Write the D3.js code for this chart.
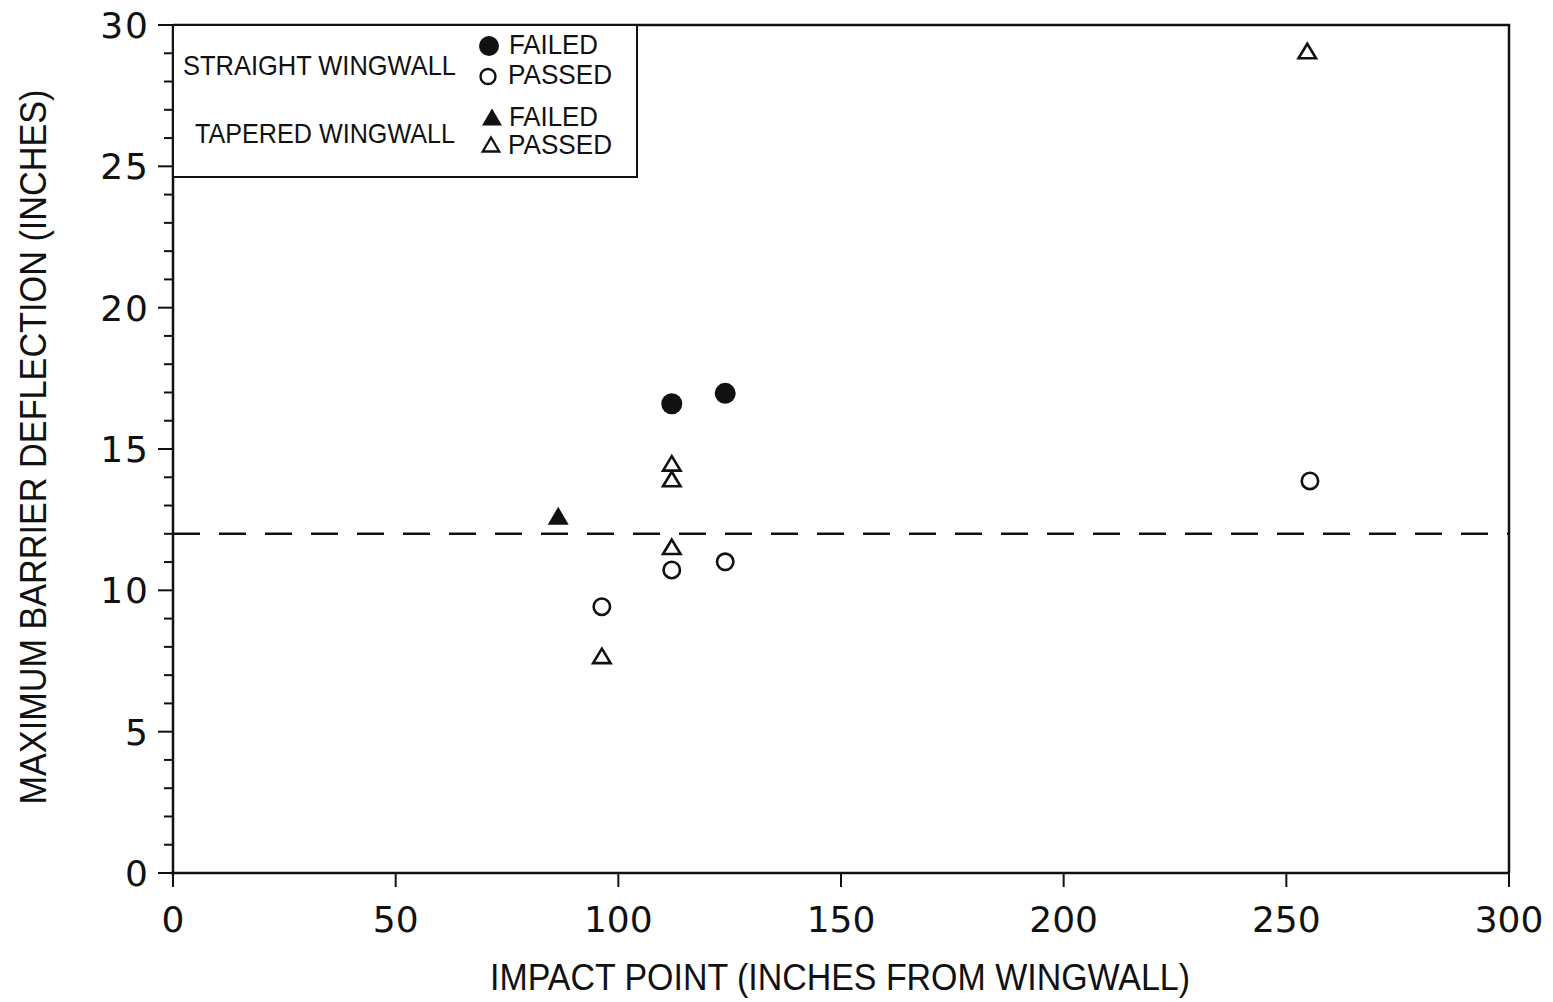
<!DOCTYPE html>
<html>
<head>
<meta charset="utf-8">
<script src="https://cdn.jsdelivr.net/npm/d3@7"></script>
<style>
  body { margin: 0; background: #fff; }
  text { fill: #111; }
</style>
</head>
<body>
<div id="chart"></div>
<script>
// data: [impact point, max deflection]
var straightFailed = [[112, 16.6], [124, 16.97]];
var straightPassed = [[96.3, 9.42], [112, 10.72], [124, 11.01], [255.3, 13.87]];
var taperedFailed  = [[86.5, 12.64]];
var taperedPassed  = [[96.3, 7.68], [112, 11.54], [112, 13.94], [112, 14.49], [254.7, 29.08]];
var criterion = 12;

var xTicks = [0, 50, 100, 150, 200, 250, 300];
var yTicks = [0, 5, 10, 15, 20, 25, 30];
var yMinorTicks = d3.range(0, 31, 1);

var xTitle = "IMPACT POINT (INCHES FROM WINGWALL)";
var yTitle = "MAXIMUM BARRIER DEFLECTION (INCHES)";
var legendGroups = ["STRAIGHT WINGWALL", "TAPERED WINGWALL"];
var legendStates = ["FAILED", "PASSED"];

var width = 1553, height = 1002;

var svg = d3.select("#chart")
  .append("svg")
  .attr("width", width)
  .attr("height", height);

var x = d3.scaleLinear().domain([0, 300]).range([173, 1509]);
var y = d3.scaleLinear().domain([0, 30]).range([873, 25]);

// triangle centred on its box
function tri(w, h) {
  return "M0," + (-h / 2) + "L" + (w / 2) + "," + (h / 2) + "L" + (-w / 2) + "," + (h / 2) + "Z";
}

// frame top + right
svg.append("path")
  .attr("d", "M" + x(0) + "," + y(30) + "H" + x(300) + "V" + y(0))
  .style("fill", "none")
  .style("stroke", "#111")
  .style("stroke-width", "2.5px");

// left axis with minor ticks
svg.append("line")
  .attr("x1", x(0)).attr("x2", x(0))
  .attr("y1", y(30)).attr("y2", y(0) + 2)
  .style("stroke", "#111").style("stroke-width", "2.5px");

svg.selectAll("line.yminor")
  .data(yMinorTicks)
  .enter()
  .append("line")
  .attr("class", "yminor")
  .attr("x1", function(d) { return d % 5 === 0 ? x(0) - 15 : x(0) - 9; })
  .attr("x2", x(0))
  .attr("y1", function(d) { return y(d); })
  .attr("y2", function(d) { return y(d); })
  .style("stroke", "#111")
  .style("stroke-width", "2px");

svg.selectAll("text.ytick")
  .data(yTicks)
  .enter()
  .append("text")
  .attr("class", "ytick")
  .attr("x", 150)
  .attr("y", function(d) { return y(d) + 13; })
  .attr("text-anchor", "end")
  .attr("font-family", "DejaVu Sans")
  .attr("font-size", 36)
  .attr("letter-spacing", 2)
  .text(function(d) { return d; });

// bottom axis
svg.append("line")
  .attr("x1", x(0) - 2).attr("x2", x(300))
  .attr("y1", y(0)).attr("y2", y(0))
  .style("stroke", "#111").style("stroke-width", "2.5px");

svg.selectAll("line.xtick")
  .data(xTicks)
  .enter()
  .append("line")
  .attr("class", "xtick")
  .attr("x1", function(d) { return x(d); })
  .attr("x2", function(d) { return x(d); })
  .attr("y1", y(0))
  .attr("y2", y(0) + 14)
  .style("stroke", "#111")
  .style("stroke-width", "2px");

svg.selectAll("text.xtick")
  .data(xTicks)
  .enter()
  .append("text")
  .attr("class", "xtick")
  .attr("x", function(d) { return x(d); })
  .attr("y", 932)
  .attr("text-anchor", "middle")
  .attr("font-family", "DejaVu Sans")
  .attr("font-size", 36)
  .text(function(d) { return d; });

// axis titles
svg.append("text")
  .attr("x", 840)
  .attr("y", 990)
  .attr("text-anchor", "middle")
  .attr("font-family", "Liberation Sans")
  .attr("font-size", 36)
  .attr("textLength", 700)
  .attr("lengthAdjust", "spacingAndGlyphs")
  .text(xTitle);

svg.append("text")
  .attr("transform", "translate(46,447) rotate(-90)")
  .attr("text-anchor", "middle")
  .attr("font-family", "Liberation Sans")
  .attr("font-size", 36)
  .attr("textLength", 715)
  .attr("lengthAdjust", "spacingAndGlyphs")
  .text(yTitle);

// 12 inch criterion
svg.append("line")
  .attr("x1", x(0)).attr("x2", x(300))
  .attr("y1", y(criterion)).attr("y2", y(criterion))
  .style("stroke", "#111")
  .style("stroke-width", "2.5px")
  .style("stroke-dasharray", "27,19");

// points
svg.selectAll("circle.sf")
  .data(straightFailed)
  .enter()
  .append("circle")
  .attr("class", "sf")
  .attr("cx", function(d) { return x(d[0]); })
  .attr("cy", function(d) { return y(d[1]); })
  .attr("r", 10.5)
  .style("fill", "#111");

svg.selectAll("circle.sp")
  .data(straightPassed)
  .enter()
  .append("circle")
  .attr("class", "sp")
  .attr("cx", function(d) { return x(d[0]); })
  .attr("cy", function(d) { return y(d[1]); })
  .attr("r", 8.2)
  .style("fill", "none")
  .style("stroke", "#111")
  .style("stroke-width", "2.6px");

svg.selectAll("path.tf")
  .data(taperedFailed)
  .enter()
  .append("path")
  .attr("class", "tf")
  .attr("transform", function(d) { return "translate(" + x(d[0]) + "," + y(d[1]) + ")"; })
  .attr("d", tri(21, 18))
  .style("fill", "#111");

svg.selectAll("path.tp")
  .data(taperedPassed)
  .enter()
  .append("path")
  .attr("class", "tp")
  .attr("transform", function(d) { return "translate(" + x(d[0]) + "," + y(d[1]) + ")"; })
  .attr("d", tri(17.5, 14.5))
  .style("fill", "none")
  .style("stroke", "#111")
  .style("stroke-width", "2.6px")
  .style("stroke-linejoin", "miter");

// legend box
svg.append("rect")
  .attr("x", x(0))
  .attr("y", y(30))
  .attr("width", 637 - x(0))
  .attr("height", 177 - y(30))
  .style("fill", "white")
  .style("stroke", "#111")
  .style("stroke-width", "2px");

svg.selectAll("text.lgroup")
  .data(legendGroups)
  .enter()
  .append("text")
  .attr("class", "lgroup")
  .attr("x", function(d, i) { return i === 0 ? 183 : 195; })
  .attr("y", function(d, i) { return i === 0 ? 75 : 143; })
  .attr("font-family", "Liberation Sans")
  .attr("font-size", 28)
  .attr("textLength", function(d, i) { return i === 0 ? 273 : 260; })
  .attr("lengthAdjust", "spacingAndGlyphs")
  .text(function(d) { return d; });

var legendRows = [
  { label: legendStates[0], base: 54, cy: 46, mark: "fc" },
  { label: legendStates[1], base: 84, cy: 76.5, mark: "oc" },
  { label: legendStates[0], base: 126, cy: 117, mark: "ft" },
  { label: legendStates[1], base: 154, cy: 144.5, mark: "ot" }
];

svg.selectAll("text.lstate")
  .data(legendRows)
  .enter()
  .append("text")
  .attr("class", "lstate")
  .attr("x", function(d) { return d.label === "FAILED" ? 509 : 508; })
  .attr("y", function(d) { return d.base; })
  .attr("font-family", "Liberation Sans")
  .attr("font-size", 28)
  .attr("textLength", function(d) { return d.label === "FAILED" ? 89 : 104; })
  .attr("lengthAdjust", "spacingAndGlyphs")
  .text(function(d) { return d.label; });

legendRows.forEach(function(d) {
  if (d.mark === "fc") {
    svg.append("circle").attr("cx", 489).attr("cy", d.cy).attr("r", 10)
      .style("fill", "#111");
  } else if (d.mark === "oc") {
    svg.append("circle").attr("cx", 488).attr("cy", d.cy).attr("r", 7.5)
      .style("fill", "none").style("stroke", "#111").style("stroke-width", "2.4px");
  } else if (d.mark === "ft") {
    svg.append("path").attr("transform", "translate(492," + d.cy + ")")
      .attr("d", tri(20, 17)).style("fill", "#111");
  } else {
    svg.append("path").attr("transform", "translate(491," + d.cy + ")")
      .attr("d", tri(16.5, 14)).style("fill", "none")
      .style("stroke", "#111").style("stroke-width", "2.3px");
  }
});
</script>
</body>
</html>
